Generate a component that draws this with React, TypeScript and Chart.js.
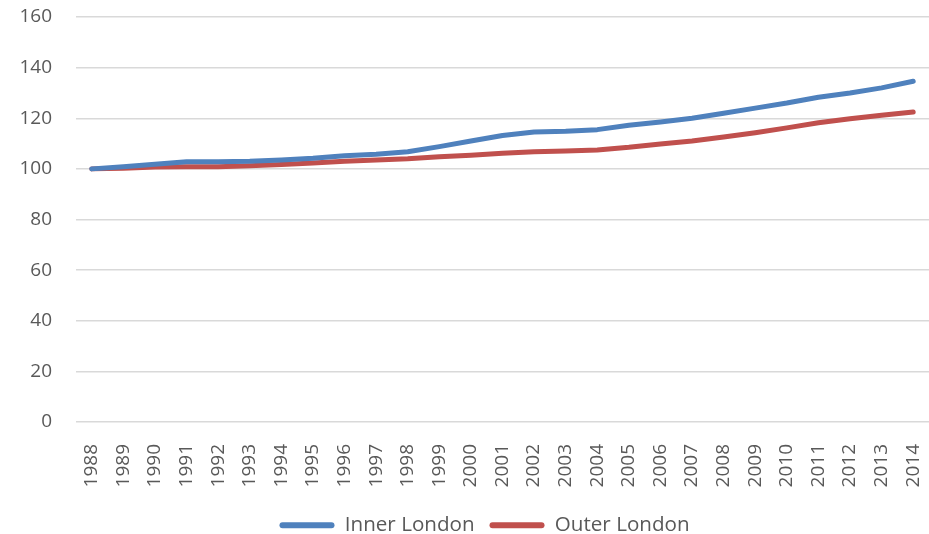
import React, { useEffect, useRef } from "react";
import { Chart, registerables } from "chart.js";

Chart.register(...registerables);

const years = ["1988","1989","1990","1991","1992","1993","1994","1995","1996","1997","1998","1999","2000","2001","2002","2003","2004","2005","2006","2007","2008","2009","2010","2011","2012","2013","2014"];
const innerLondon = [100, 100.8, 101.8, 102.8, 102.8, 103, 103.5, 104.2, 105.2, 105.8, 106.8, 108.8, 111, 113.2, 114.6, 114.9, 115.5, 117.2, 118.5, 120, 122, 124, 126, 128.3, 130, 132, 134.6];
const outerLondon = [100, 100.2, 100.7, 100.8, 100.8, 101.2, 101.7, 102.3, 103, 103.5, 104, 104.8, 105.4, 106.2, 106.8, 107.1, 107.5, 108.5, 109.8, 111, 112.6, 114.3, 116.2, 118.2, 119.8, 121.2, 122.5];

const legendFix = {
  id: "legendFix",
  beforeLayout(chart: any) {
    const lg = chart.legend;
    if (lg && !lg.__patched) {
      lg.__patched = true;
      const orig = lg.fit.bind(lg);
      lg.fit = function () {
        orig();
        this.height = 33;
      };
    }
  },
  afterLayout(chart: any) {
    const lg = chart.legend;
    if (lg) {
      lg.top -= 1;
      lg.bottom -= 1;
      lg.left += 20;
      lg.right += 20;
    }
  },
};

export default function App() {
  const ref = useRef<HTMLCanvasElement | null>(null);
  useEffect(() => {
    document.body.style.margin = "0";
    const font = { family: "'Open Sans', 'Noto Sans', sans-serif", size: 19 };
    const chart = new Chart(ref.current!, {
      type: "line",
      data: {
        labels: years,
        datasets: [
          { label: "Inner London", data: innerLondon, borderColor: "#4f81bd", backgroundColor: "#4f81bd", borderWidth: 5, pointRadius: 0, borderCapStyle: "round", borderJoinStyle: "round", tension: 0 },
          { label: "Outer London", data: outerLondon, borderColor: "#c0504d", backgroundColor: "#c0504d", borderWidth: 5, pointRadius: 0, borderCapStyle: "round", borderJoinStyle: "round", tension: 0 },
        ],
      },
      plugins: [legendFix],
      options: {
        animation: false,
        responsive: false,
        layout: { padding: { top: 17, right: 0, left: 0, bottom: 0 } },
        plugins: {
          legend: {
            position: "bottom",
            labels: {
              boxWidth: 55,
              boxHeight: 6,
              useBorderRadius: true,
              borderRadius: 3,
              color: "#595959",
              font: { ...font, size: 20.6 },
              padding: 15,
              generateLabels: (c: any) =>
                Chart.defaults.plugins.legend.labels.generateLabels(c).map((l: any) => ({ ...l, lineWidth: 0 })),
            },
          },
          tooltip: { enabled: false },
        },
        scales: {
          x: {
            offset: true,
            grid: { display: false },
            border: { display: false },
            ticks: { color: "#595959", font, maxRotation: 90, minRotation: 90, autoSkip: false, padding: 14 },
            afterFit: (s: any) => { s.paddingLeft = 0; s.paddingRight = 0; s.height = 79; },
          },
          y: {
            min: 0,
            max: 160,
            grid: { color: "#d9d9d9", lineWidth: 1.5, drawTicks: false },
            border: { display: false },
            ticks: { stepSize: 20, color: "#595959", font, padding: 24 },
            afterFit: (s: any) => { s.paddingTop = 0; s.paddingBottom = 0; s.width = 76; },
          },
        },
      },
    });
    return () => chart.destroy();
  }, []);
  return <canvas ref={ref} width={929} height={534} style={{ display: "block" }} />;
}
